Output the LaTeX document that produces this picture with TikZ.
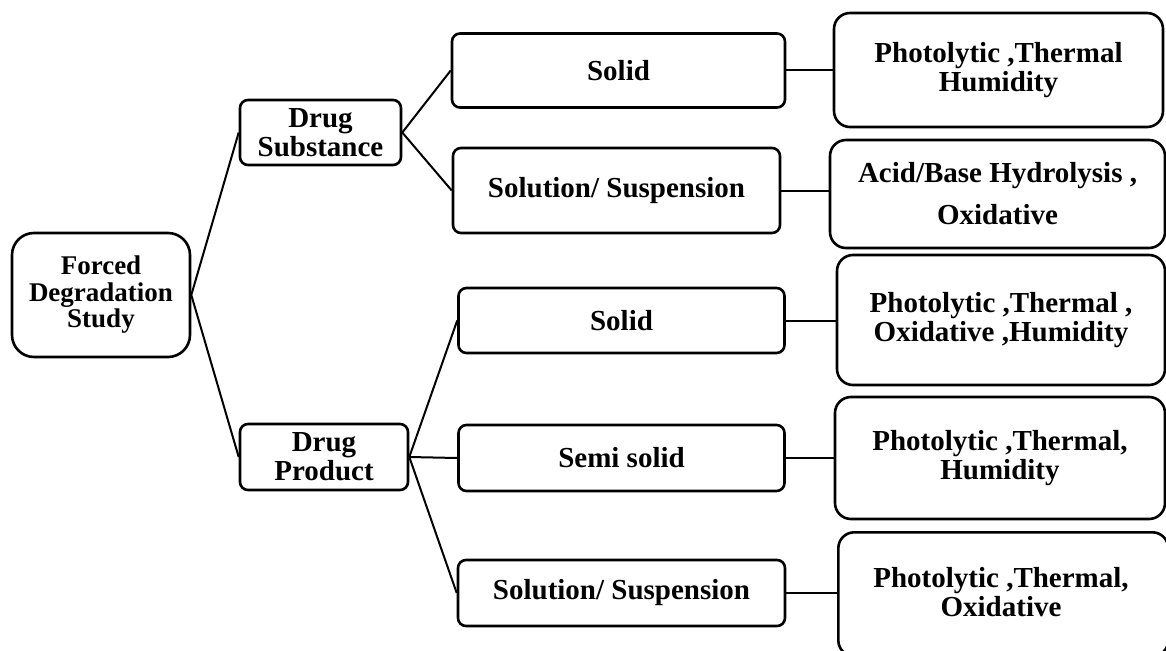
\documentclass[tikz,border=0pt]{standalone}
\usepackage{fontspec}
\setmainfont{Liberation Serif}
\begin{document}
\begin{tikzpicture}[x=1pt,y=-1pt,
  box/.style={draw=black, line width=2.6pt, rounded corners=8pt, inner sep=0pt, align=center,
    font=\fontsize{29}{29}\selectfont\bfseries},
  bigbox/.style={box, rounded corners=16pt},
  link/.style={draw=black, line width=2pt}]
\useasboundingbox (0,0) rectangle (1166,650);
\node[box, rounded corners=22pt, minimum width=178pt, minimum height=124pt,
  font=\fontsize{27}{26.5}\selectfont\bfseries] (F) at (101,295) {Forced\\Degradation\\Study};
\node[box, minimum width=161pt, minimum height=65pt] (DS) at (320.5,132.5) {Drug\\Substance};
\node[box, minimum width=168pt, minimum height=66pt] (DP) at (324,457) {Drug\\Product};
\node[box, minimum width=333pt, minimum height=74pt] (S1) at (618.5,70.5) {Solid};
\node[box, minimum width=327pt, minimum height=85pt] (S2) at (616.5,190.5) {Solution/ Suspension};
\node[box, minimum width=326pt, minimum height=65pt] (P1) at (621.5,320.5) {Solid};
\node[box, minimum width=326pt, minimum height=66pt] (P2) at (621.5,458) {Semi solid};
\node[box, minimum width=327pt, minimum height=66pt] (P3) at (621.5,593) {Solution/ Suspension};
\node[bigbox, minimum width=329pt, minimum height=114pt] (R1) at (998.5,70) {Photolytic ,Thermal\\Humidity};
\node[bigbox, minimum width=335pt, minimum height=108pt] (R2) at (997.5,194) {Acid/Base Hydrolysis ,\\[13pt]Oxidative};
\node[bigbox, minimum width=328pt, minimum height=130pt] (R3) at (1001,320) {Photolytic ,Thermal ,\\Oxidative ,Humidity};
\node[bigbox, minimum width=330pt, minimum height=122pt] (R4) at (1000,458) {Photolytic ,Thermal,\\Humidity};
\node[bigbox, minimum width=330pt, minimum height=124pt, anchor=north west] (R5) at (837,531) {};
\node[font=\fontsize{29}{29}\selectfont\bfseries, align=center] (R5t) at (1001,592) {Photolytic ,Thermal,\\Oxidative};
\path[link] (F.east) -- (DS.west);
\path[link] (F.east) -- (DP.west);
\path[link] (DS.east) -- (S1.west);
\path[link] (DS.east) -- (S2.west);
\path[link] (DP.east) -- (P1.west);
\path[link] (DP.east) -- (P2.west);
\path[link] (DP.east) -- (P3.west);
\path[link] (S1.east) -- (R1.west |- S1.east);
\path[link] (S2.east) -- (R2.west |- S2.east);
\path[link] (P1.east) -- (R3.west |- P1.east);
\path[link] (P2.east) -- (R4.west |- P2.east);
\path[link] (P3.east) -- (R5.west |- P3.east);
\end{tikzpicture}
\end{document}
